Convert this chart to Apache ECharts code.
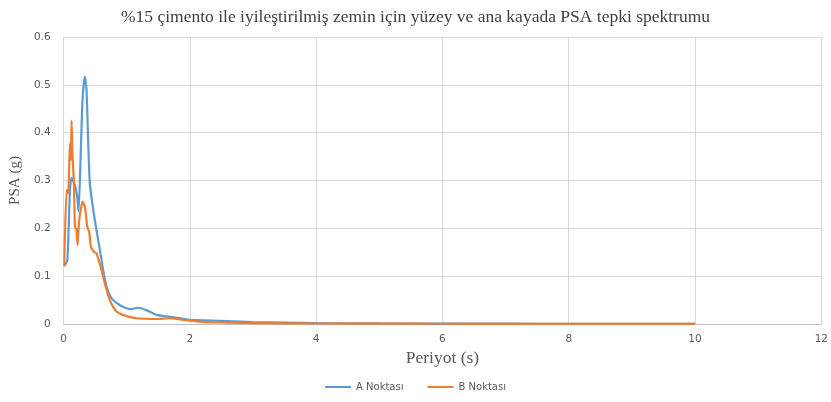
<!DOCTYPE html>
<html>
<head>
<meta charset="utf-8">
<script src="https://cdn.jsdelivr.net/npm/echarts@6/dist/echarts.min.js"></script>
<style>
  html, body { margin: 0; padding: 0; background: #fff; }
  #chart { width: 831px; height: 402px; }
</style>
</head>
<body>
<div id="chart"></div>
<script>
// periyot (s) ve PSA (g) degerleri
var periodA = [0.01, 0.06, 0.1, 0.126, 0.18, 0.216, 0.237, 0.27, 0.3, 0.337, 0.363, 0.39, 0.416, 0.47, 0.52, 0.574, 0.626, 0.68, 0.758, 0.85, 0.94, 1.05, 1.18, 1.31, 1.47, 1.68, 2.0, 2.26, 2.6, 3.0, 3.5, 4.0, 5.0, 6.0, 7.0, 8.0, 9.0, 10.0];
var psaA    = [0.121, 0.134, 0.28, 0.305, 0.29, 0.266, 0.235, 0.35, 0.469, 0.517, 0.49, 0.378, 0.294, 0.238, 0.197, 0.155, 0.113, 0.078, 0.054, 0.043, 0.036, 0.031, 0.034, 0.029, 0.019, 0.015, 0.0086, 0.0075, 0.006, 0.004, 0.003, 0.002, 0.0012, 0.0008, 0.0006, 0.0005, 0.0004, 0.0003];

var periodB = [0.01, 0.047, 0.074, 0.1, 0.116, 0.126, 0.142, 0.163, 0.18, 0.205, 0.221, 0.242, 0.27, 0.3, 0.337, 0.374, 0.405, 0.432, 0.48, 0.52, 0.563, 0.6, 0.653, 0.732, 0.837, 0.94, 1.15, 1.47, 1.68, 2.0, 2.26, 2.6, 3.0, 3.5, 4.0, 5.0, 6.0, 7.0, 8.0, 9.0, 10.0];
var psaB    = [0.121, 0.28, 0.273, 0.378, 0.343, 0.425, 0.35, 0.294, 0.204, 0.197, 0.165, 0.21, 0.238, 0.256, 0.245, 0.204, 0.193, 0.162, 0.151, 0.148, 0.13, 0.113, 0.085, 0.05, 0.026, 0.019, 0.012, 0.0105, 0.012, 0.007, 0.004, 0.003, 0.002, 0.0015, 0.001, 0.0007, 0.0005, 0.0004, 0.0003, 0.0003, 0.0002];

var xTicks = [0, 2, 4, 6, 8, 10, 12];
var yTicks = [0, 0.1, 0.2, 0.3, 0.4, 0.5, 0.6];

function pairs(xs, ys) {
    var out = [];
    for (var i = 0; i < xs.length; i++) {
        out.push([xs[i], ys[i]]);
    }
    return out;
}

var chart = echarts.init(document.getElementById('chart'));

var option = {
    animation: false,
    title: {
        text: '%15 çimento ile iyileştirilmiş zemin için yüzey ve ana kayada PSA tepki spektrumu',
        left: 'center',
        top: 3,
        textStyle: {
            fontFamily: 'Liberation Serif',
            fontSize: 17.5,
            fontWeight: 'normal',
            color: '#404040'
        }
    },
    legend: {
        bottom: 5,
        left: 'center',
        icon: 'rect',
        itemWidth: 26,
        itemHeight: 2,
        itemGap: 24,
        textStyle: {
            fontFamily: 'DejaVu Sans',
            fontSize: 10,
            color: '#595959'
        },
        data: ['A Noktası', 'B Noktası']
    },
    grid: {
        left: 62,
        right: 9,
        top: 37,
        bottom: 78
    },
    xAxis: {
        type: 'value',
        min: xTicks[0],
        max: xTicks[xTicks.length - 1],
        interval: 2,
        name: 'Periyot (s)',
        nameLocation: 'middle',
        nameGap: 25,
        nameTextStyle: {
            fontFamily: 'Liberation Serif',
            fontSize: 17.5,
            color: '#595959'
        },
        axisLine: { show: true, lineStyle: { color: '#bfbfbf', width: 1 } },
        axisTick: { show: false },
        axisLabel: {
            fontFamily: 'DejaVu Sans',
            fontSize: 10.5,
            color: '#595959',
            margin: 10
        },
        splitLine: { show: true, lineStyle: { color: '#d9d9d9', width: 1 } }
    },
    yAxis: {
        type: 'value',
        min: yTicks[0],
        max: yTicks[yTicks.length - 1],
        interval: 0.1,
        name: 'PSA (g)',
        nameLocation: 'middle',
        nameGap: 40,
        nameRotate: 90,
        nameTextStyle: {
            fontFamily: 'Liberation Serif',
            fontSize: 15,
            color: '#595959'
        },
        axisLine: { show: false },
        axisTick: { show: false },
        axisLabel: {
            fontFamily: 'DejaVu Sans',
            fontSize: 10.5,
            color: '#595959',
            margin: 13
        },
        splitLine: { show: true, lineStyle: { color: '#d9d9d9', width: 1 } }
    },
    series: [
        {
            name: 'A Noktası',
            type: 'line',
            showSymbol: false,
            smooth: 0.2,
            lineStyle: { width: 2.2, color: '#5B9BD5' },
            itemStyle: { color: '#5B9BD5' },
            data: pairs(periodA, psaA)
        },
        {
            name: 'B Noktası',
            type: 'line',
            showSymbol: false,
            smooth: 0.2,
            lineStyle: { width: 2.2, color: '#ED7D31' },
            itemStyle: { color: '#ED7D31' },
            data: pairs(periodB, psaB)
        }
    ]
};

chart.setOption(option);
</script>
</body>
</html>
